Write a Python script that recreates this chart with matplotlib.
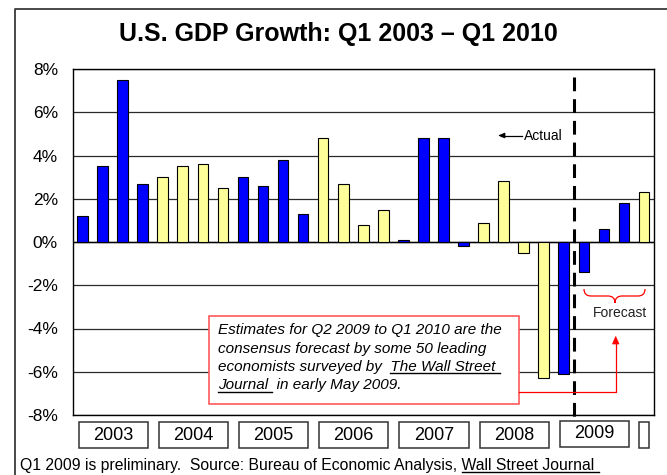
import numpy as np
import matplotlib
matplotlib.use("Agg")
import matplotlib.pyplot as plt
from matplotlib.patches import Rectangle, PathPatch, Polygon
from matplotlib.path import Path
from matplotlib.lines import Line2D
from matplotlib.transforms import Affine2D, blended_transform_factory

plt.rcParams['font.family'] = ['Liberation Sans', 'DejaVu Sans']

# Quarterly real GDP growth (annualized %), Q1 2003 .. Q1 2010
years = ['2003', '2004', '2005', '2006', '2007', '2008', '2009']
growth = [1.2, 3.5, 7.5, 2.7,      # 2003
          3.0, 3.5, 3.6, 2.5,      # 2004
          3.0, 2.6, 3.8, 1.3,      # 2005
          4.8, 2.7, 0.8, 1.5,      # 2006
          0.1, 4.8, 4.8, -0.2,     # 2007
          0.9, 2.8, -0.5, -6.3,    # 2008
          -6.1, -1.4, 0.6, 1.8,    # 2009
          2.3]                     # 2010
yticks = [-8, -6, -4, -2, 0, 2, 4, 6, 8]
ytick_labels = ['-8%', '-6%', '-4%', '-2%', '0%', '2%', '4%', '6%', '8%']
n_actual = 25   # quarters through Q1 2009 are actual, the rest forecast

W, H = 667, 475
fig = plt.figure(figsize=(W / 100, H / 100), dpi=100)
fig.patch.set_facecolor('white')
# pixel coordinates, origin top-left
px = Affine2D().scale(1 / W, -1 / H).translate(0, 1) + fig.transFigure

left, right, top, bottom = 72.5, 654, 69, 415
ax = fig.add_axes([left / W, 1 - bottom / H, (right - left) / W, (bottom - top) / H])

n = len(growth)
xpos = np.arange(n) + 0.5
colors = ['#0000FF' if (i // 4) % 2 == 0 else '#FFFF99' for i in range(n)]
ax.bar(xpos, growth, width=0.53, color=colors, edgecolor='black',
       linewidth=0.8, zorder=3)

ax.set_xlim(0, n)
ax.set_ylim(-8, 8)
ax.set_yticks(yticks)
ax.set_yticklabels(ytick_labels, fontsize=12.5)
ax.tick_params(axis='y', length=0, pad=10.5)
ax.set_xticks([])
ax.yaxis.grid(True, color='#2a2a2a', linewidth=0.9)
ax.set_axisbelow(True)
ax.axhline(0, color='black', linewidth=1.0, zorder=2)
for s in ax.spines.values():
    s.set_color('black')
    s.set_linewidth(1.0)

# x in data units, y in pixels
xblend = blended_transform_factory(ax.transData, px)

# actual / forecast divider, between the last actual and first forecast quarter
fig.add_artist(Line2D([n_actual, n_actual], [77, 422], transform=xblend,
                      color='black', linewidth=2.2, linestyle=(0, (4.5, 2.6)),
                      zorder=6))

# year boxes under the axis
for k, yr in enumerate(years):
    x0 = 4 * k + 0.3
    ytop = 421 if yr == '2009' else 422
    fig.add_artist(Rectangle((x0, ytop), 3.45, 26, transform=xblend,
                             facecolor='white', edgecolor='#333333',
                             linewidth=1.1, zorder=5))
    fig.text(4 * k + 2.02, ytop + 17.5, yr, transform=xblend, ha='center',
             va='baseline', fontsize=13, zorder=7)
fig.add_artist(Rectangle((28.25, 422), 0.5, 26, transform=xblend,
                         facecolor='white', edgecolor='#333333',
                         linewidth=1.1, zorder=5))

# outer frame
fig.add_artist(Line2D([15, 15, W], [H, 9, 9], transform=px, color='#3a3a3a',
                      linewidth=1.3, zorder=8))

# title
fig.text(338.5, 41.5, 'U.S. GDP Growth: Q1 2003 \u2013 Q1 2010', transform=px,
         ha='center', va='baseline', fontsize=18, fontweight='bold')

# "Actual" label with arrow
fig.add_artist(Line2D([501, 522], [135.5, 135.5], transform=px, color='black',
                      linewidth=0.9, zorder=7))
fig.add_artist(Polygon([(499, 135.5), (505, 133), (505, 138)], closed=True,
                       transform=px, facecolor='black', edgecolor='black',
                       linewidth=0.5, zorder=7))
fig.text(523.5, 140, 'Actual', transform=px, ha='left', va='baseline',
         fontsize=10, zorder=7)

# forecast brace and label
red = '#FF0000'
bverts = [(584, 289), (584, 296), (591, 296), (608, 296), (615, 296), (615, 303),
          (615, 296), (622, 296), (638, 296), (645, 296), (645, 289)]
bcodes = [Path.MOVETO, Path.CURVE3, Path.CURVE3, Path.LINETO, Path.CURVE3,
          Path.CURVE3, Path.CURVE3, Path.CURVE3, Path.LINETO, Path.CURVE3,
          Path.CURVE3]
fig.add_artist(PathPatch(Path(bverts, bcodes), transform=px, facecolor='none',
                         edgecolor=red, linewidth=0.9, zorder=7))
fig.text(620, 317, 'Forecast', transform=px, ha='center', va='baseline',
         fontsize=10, color='#222222', zorder=7)

# note box
fig.add_artist(Rectangle((209, 315.7), 310, 88.5, transform=px, facecolor='white',
                         edgecolor='#FF5A5A', linewidth=1.2, zorder=6))
fig.add_artist(Line2D([519, 615.7, 615.7], [392.3, 392.3, 343], transform=px,
                      color=red, linewidth=0.9, zorder=7))
fig.add_artist(Polygon([(612.5, 344), (619, 344), (615.7, 336.5)], closed=True,
                       transform=px, facecolor=red, edgecolor=red, linewidth=0.5,
                       zorder=7))

fig.canvas.draw()
renderer = fig.canvas.get_renderer()


def width_px(s, **kw):
    t = fig.text(0, 0, s + '|', **kw)
    w = t.get_window_extent(renderer).width
    t.set_text('|')
    w -= t.get_window_extent(renderer).width
    t.remove()
    return w


def line_with_underline(x, y, pieces, **kw):
    """pieces: list of (text, underlined) drawn left to right."""
    cx = x
    full = ''.join(p for p, _ in pieces)
    fig.text(x, y, full, transform=px, ha='left', va='baseline', zorder=8, **kw)
    for text, ul in pieces:
        w = width_px(text, **kw)
        if ul:
            fig.add_artist(Line2D([cx, cx + w], [y + 2.2, y + 2.2], transform=px,
                                  color='black', linewidth=1.0, zorder=8))
        cx += w


note_kw = dict(fontsize=11, fontstyle='italic')
line_with_underline(218, 334.3, [('Estimates for Q2 2009 to Q1 2010 are the', False)], **note_kw)
line_with_underline(218, 352.7, [('consensus forecast by some 50 leading', False)], **note_kw)
line_with_underline(218, 371.0, [('economists surveyed by  ', False),
                                 ('The Wall Street ', True)], **note_kw)
line_with_underline(218, 389.3, [('Journal ', True),
                                 (' in early May 2009.', False)], **note_kw)

line_with_underline(20, 470, [('Q1 2009 is preliminary.  Source: Bureau of Economic Analysis, ', False),
                              ('Wall Street Journal ', True)], fontsize=11.3)

fig.savefig('out.png', dpi=100)
